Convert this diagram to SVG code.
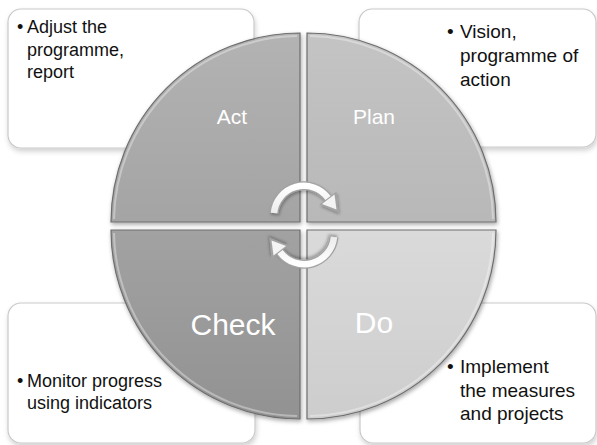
<svg xmlns="http://www.w3.org/2000/svg" width="597" height="445" viewBox="0 0 597 445">
<defs>
<style>
.box{fill:#ffffff;stroke:#c9c9c9;stroke-width:1.2;filter:url(#bshadow)}
.btxt{font-family:"Liberation Sans",Arial,sans-serif;fill:#111111}
.qlab{font-family:"Liberation Sans",Arial,sans-serif;fill:#ffffff;text-anchor:middle}
.quad{stroke:#6e6e6e;stroke-width:1.2;filter:url(#qshadow)}
.bevel{fill:none;stroke:#ffffff;stroke-opacity:0.35;stroke-width:2}
.tube-o{fill:none;stroke:#a3a3a3;stroke-width:9}
.tube-i{fill:none;stroke:url(#tubeg);stroke-width:6.5}
</style>
<filter id="bshadow" x="-10%" y="-10%" width="120%" height="125%">
<feDropShadow dx="1" dy="3" stdDeviation="2.5" flood-color="#000" flood-opacity="0.18"/>
</filter>
<filter id="qshadow" x="-10%" y="-10%" width="125%" height="125%">
<feDropShadow dx="1" dy="2" stdDeviation="2" flood-color="#000" flood-opacity="0.35"/>
</filter>
<filter id="ashadow" x="-20%" y="-20%" width="140%" height="140%">
<feDropShadow dx="1" dy="2" stdDeviation="1.5" flood-color="#000" flood-opacity="0.3"/>
</filter>
<linearGradient id="gAct" x1="0" y1="0" x2="0" y2="1">
<stop offset="0" stop-color="#b3b3b3"/><stop offset="1" stop-color="#a4a4a4"/>
</linearGradient>
<linearGradient id="gPlan" x1="0" y1="0" x2="0" y2="1">
<stop offset="0" stop-color="#c4c4c4"/><stop offset="1" stop-color="#b8b8b8"/>
</linearGradient>
<linearGradient id="gCheck" x1="0" y1="0" x2="0" y2="1">
<stop offset="0" stop-color="#a2a2a2"/><stop offset="1" stop-color="#929292"/>
</linearGradient>
<linearGradient id="gDo" x1="0" y1="0" x2="0" y2="1">
<stop offset="0" stop-color="#dadada"/><stop offset="1" stop-color="#cdcdcd"/>
</linearGradient>
<linearGradient id="tubeg" x1="0" y1="0" x2="0" y2="1">
<stop offset="0" stop-color="#ffffff"/><stop offset="1" stop-color="#ececec"/>
</linearGradient>
</defs>

<g id="box-act">
<rect class="box" x="8" y="9" width="246" height="139" rx="13"/>
<text class="btxt" font-size="18"><tspan x="17" y="33">•</tspan><tspan x="27" y="33">Adjust the</tspan><tspan x="27" y="56">programme,</tspan><tspan x="27" y="78">report</tspan></text>
</g>
<g id="box-plan">
<rect class="box" x="359" y="9" width="237" height="138" rx="13"/>
<text class="btxt" font-size="19"><tspan x="447" y="38">•</tspan><tspan x="460" y="38">Vision,</tspan><tspan x="460" y="62">programme of</tspan><tspan x="460" y="86">action</tspan></text>
</g>
<g id="box-check">
<rect class="box" x="8" y="303" width="247" height="140" rx="13"/>
<text class="btxt" font-size="18"><tspan x="17" y="387">•</tspan><tspan x="27" y="387">Monitor progress</tspan><tspan x="27" y="409">using indicators</tspan></text>
</g>
<g id="box-do">
<rect class="box" x="360" y="303" width="236" height="140" rx="13"/>
<text class="btxt" font-size="19"><tspan x="447" y="373">•</tspan><tspan x="460" y="373">Implement</tspan><tspan x="460" y="397">the measures</tspan><tspan x="460" y="420">and projects</tspan></text>
</g>

<g id="quad-act">
<path class="quad" fill="url(#gAct)" d="M300,222 L111,222 A189,189 0 0 1 300,33 Z"/>
<path class="bevel" d="M114,219 A186,186 0 0 1 297,36"/>
<text class="qlab" x="232" y="124" font-size="21">Act</text>
</g>
<g id="quad-plan">
<path class="quad" fill="url(#gPlan)" d="M307,222 L307,33 A189,189 0 0 1 496,222 Z"/>
<path class="bevel" d="M310,36 A186,186 0 0 1 493,219"/>
<text class="qlab" x="374" y="124" font-size="21">Plan</text>
</g>
<g id="quad-check">
<path class="quad" fill="url(#gCheck)" d="M300,230 L300,419 A189,189 0 0 1 111,230 Z"/>
<path class="bevel" d="M297,416 A186,186 0 0 1 114,233"/>
<text class="qlab" x="233" y="335" font-size="30">Check</text>
</g>
<g id="quad-do">
<path class="quad" fill="url(#gDo)" d="M307,230 L496,230 A189,189 0 0 1 307,419 Z"/>
<path class="bevel" d="M493,233 A186,186 0 0 1 310,416"/>
<text class="qlab" x="374" y="333" font-size="30">Do</text>
</g>

<g id="connectors">
<g id="arrow-top" filter="url(#ashadow)">
<path class="tube-o" d="M274,213 A30,30 0 0 1 328,198"/>
<polygon points="319.5,204.5 336.5,191.5 338.5,212.5" fill="#a3a3a3"/>
<path class="tube-i" d="M274,213 A30,30 0 0 1 328,198"/>
<polygon points="322,204 334.5,194.5 336.5,209.5" fill="#f4f4f4"/>
</g>
<g id="arrow-bottom" filter="url(#ashadow)" transform="rotate(180 304 225)">
<path class="tube-o" d="M274,213 A30,30 0 0 1 328,198"/>
<polygon points="319.5,204.5 336.5,191.5 338.5,212.5" fill="#a3a3a3"/>
<path class="tube-i" d="M274,213 A30,30 0 0 1 328,198"/>
<polygon points="322,204 334.5,194.5 336.5,209.5" fill="#f4f4f4"/>
</g>
</g>
</svg>
